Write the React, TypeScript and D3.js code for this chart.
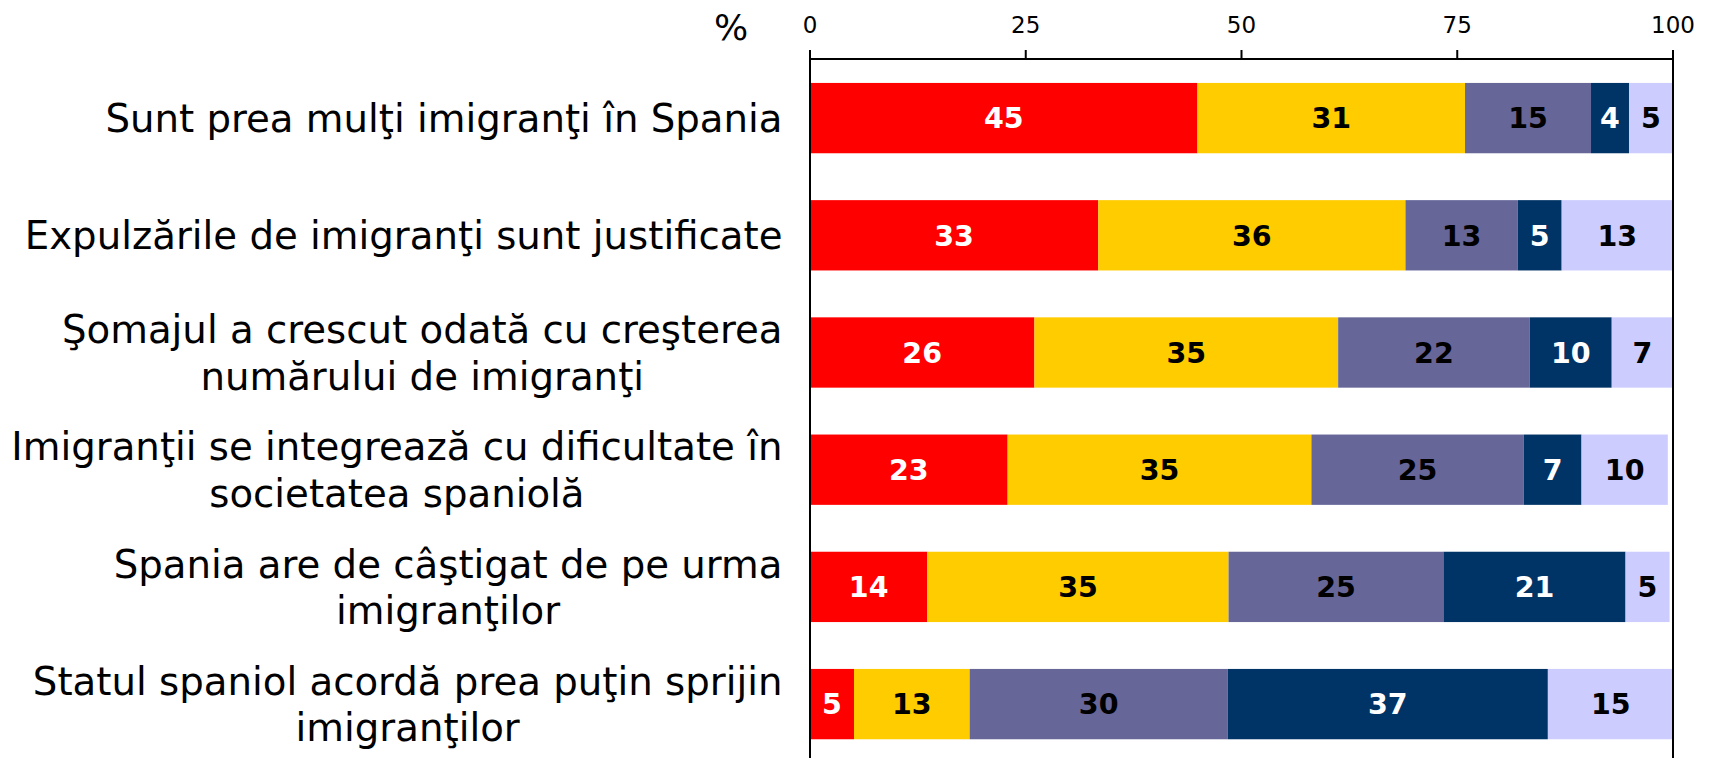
import React, { useEffect, useRef } from "react";
import * as d3 from "d3";

const categories: string[][] = [
  ["Sunt prea mulţi imigranţi în Spania"],
  ["Expulzările de imigranţi sunt justificate"],
  ["Şomajul a crescut odată cu creşterea", "numărului de imigranţi"],
  ["Imigranţii se integrează cu dificultate în", "societatea spaniolă"],
  ["Spania are de câştigat de pe urma", "imigranţilor"],
  ["Statul spaniol acordă prea puţin sprijin", "imigranţilor"],
];

const seriesKeys = ["s1", "s2", "s3", "s4", "s5"];
const seriesColors = ["#FF0000", "#FFCC00", "#666699", "#003366", "#CCCCFF"];
const labelColors = ["#FFFFFF", "#000000", "#000000", "#FFFFFF", "#000000"];

const s1 = [44.9, 33.4, 26.0, 22.9, 13.6, 5.1];
const s2 = [31.0, 35.6, 35.2, 35.2, 34.9, 13.4];
const s3 = [14.6, 13.0, 22.2, 24.6, 24.9, 29.9];
const s4 = [4.4, 5.1, 9.5, 6.7, 21.1, 37.1];
const s5 = [5.1, 12.9, 7.1, 10.0, 5.1, 14.6];
const seriesValues = [s1, s2, s3, s4, s5];

const tickValues = [0, 25, 50, 75, 100];

const W = 1713;
const H = 758;
const FONT = "'DejaVu Sans', Verdana, sans-serif";

export default function App() {
  const ref = useRef<SVGSVGElement>(null);

  useEffect(() => {
    const svg = d3.select(ref.current);
    svg.selectAll("*").remove();

    const x = d3.scaleLinear().domain([0, 100]).range([810, 1673]);
    const y = d3
      .scaleBand<number>()
      .domain(categories.map((_, i) => i))
      .range([59.5, 762.7])
      .paddingInner(0.4)
      .paddingOuter(0.2);

    const rows = categories.map((_, i) => {
      const r: any = { idx: i };
      seriesKeys.forEach((k, j) => (r[k] = seriesValues[j][i]));
      return r;
    });
    const stacked = d3.stack<any>().keys(seriesKeys)(rows);

    // bars
    stacked.forEach((layer, j) => {
      const g = svg.append("g");
      g.selectAll("rect")
        .data(layer)
        .enter()
        .append("rect")
        .attr("x", (d) => x(d[0]))
        .attr("width", (d) => x(d[1]) - x(d[0]))
        .attr("y", (d) => y(d.data.idx)!)
        .attr("height", y.bandwidth())
        .attr("fill", seriesColors[j]);
      g.selectAll("text")
        .data(layer)
        .enter()
        .append("text")
        .attr("x", (d) => (x(d[0]) + x(d[1])) / 2)
        .attr("y", (d) => y(d.data.idx)! + y.bandwidth() / 2)
        .attr("dy", "0.36em")
        .attr("text-anchor", "middle")
        .attr("font-family", FONT)
        .attr("font-weight", "bold")
        .attr("font-size", 28.5)
        .attr("fill", labelColors[j])
        .text((d) => String(Math.round(d[1] - d[0])));
    });

    // frame / axis
    const axisY = 59;
    svg
      .append("line")
      .attr("x1", x(0))
      .attr("x2", x(100))
      .attr("y1", axisY)
      .attr("y2", axisY)
      .attr("stroke", "#000")
      .attr("stroke-width", 2);
    svg
      .selectAll(".tick")
      .data(tickValues)
      .enter()
      .append("line")
      .attr("x1", (d) => x(d))
      .attr("x2", (d) => x(d))
      .attr("y1", axisY - 9)
      .attr("y2", (d) => (d === 0 || d === 100 ? H : axisY))
      .attr("stroke", "#000")
      .attr("stroke-width", 2);
    svg
      .selectAll(".ticklabel")
      .data(tickValues)
      .enter()
      .append("text")
      .attr("x", (d) => x(d))
      .attr("y", 33)
      .attr("text-anchor", "middle")
      .attr("font-family", FONT)
      .attr("font-size", 23)
      .attr("fill", "#000")
      .text((d) => String(d));
    svg
      .append("text")
      .attr("x", 731)
      .attr("y", 40)
      .attr("text-anchor", "middle")
      .attr("font-family", FONT)
      .attr("font-size", 36)
      .attr("fill", "#000")
      .text("%");

    // category labels
    const right = 782.5;
    const lh = 46.5;
    categories.forEach((lines, i) => {
      const cy = y(i)! + y.bandwidth() / 2;
      const g = svg.append("g");
      const texts = lines.map((ln, k) =>
        g
          .append("text")
          .attr("y", cy + (k - (lines.length - 1) / 2) * lh)
          .attr("dy", "0.36em")
          .attr("font-family", FONT)
          .attr("font-size", 38.7)
          .attr("fill", "#000")
          .text(ln)
      );
      const widths = texts.map((t) => (t.node() as SVGTextElement).getComputedTextLength());
      const maxW = Math.max(...widths);
      texts.forEach((t) => t.attr("text-anchor", "middle").attr("x", right - maxW / 2));
    });
  }, []);

  return (
    <svg
      ref={ref}
      width={W}
      height={H}
      style={{ position: "absolute", left: 0, top: 0, background: "#fff" }}
    />
  );
}
